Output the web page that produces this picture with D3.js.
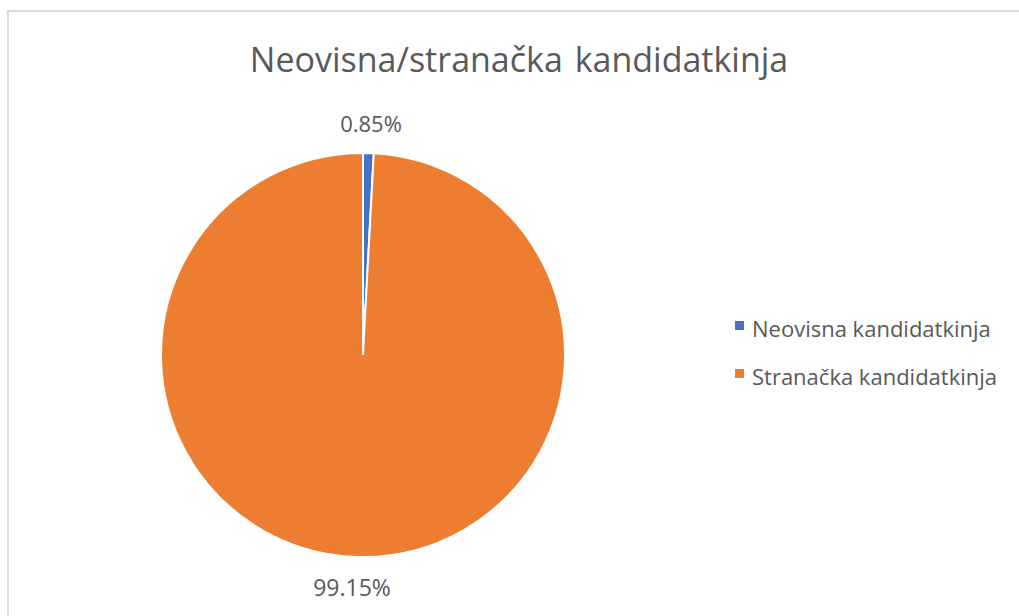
<!DOCTYPE html>
<html>
<head>
<meta charset="utf-8">
<script src="https://cdn.jsdelivr.net/npm/d3@7"></script>
<style>
  html, body { margin: 0; padding: 0; background: #fff; }
  svg { display: block; }
  text { font-family: 'Open Sans', 'Noto Sans', sans-serif; fill: #595959; }
</style>
</head>
<body>
<script>
const categories = ['Neovisna kandidatkinja', 'Stranačka kandidatkinja']
const values = [0.85, 99.15]
const labels = ['0.85%', '99.15%']
const colors = ['#4472C4', '#ED7D31']

const w = 1019
const h = 616

const svg = d3.select('body').append('svg')
    .attr('width', w)
    .attr('height', h)

// chart frame
svg.append('rect')
    .attr('x', 8)
    .attr('y', 11)
    .attr('width', w + 20)
    .attr('height', h + 20)
    .attr('fill', '#fff')
    .attr('stroke', '#d9d9d9')
    .attr('stroke-width', 2)

svg.append('text')
    .attr('x', 519)
    .attr('y', 72)
    .attr('text-anchor', 'middle')
    .style('font-size', '34px')
    .style('word-spacing', '3px')
    .text('Neovisna/stranačka kandidatkinja')

const cx = 363
const cy = 355
const r = 202

const pie = d3.pie().sort(null).value(d => d)
const arcs = pie(values)
const arc = d3.arc().innerRadius(0).outerRadius(r)

const g = svg.append('g').attr('transform', `translate(${cx},${cy})`)

g.selectAll('path')
    .data(arcs)
    .enter()
    .append('path')
    .attr('d', arc)
    .attr('fill', (d, i) => colors[i])
    .attr('stroke', '#fff')
    .attr('stroke-width', 2)

// data labels outside the pie
const labelPos = [[371, 132], [352, 596]]
g.selectAll('.lbl')
    .data(arcs)
    .enter()
    .append('text')
    .attr('class', 'lbl')
    .attr('text-anchor', 'middle')
    .attr('x', (d, i) => labelPos[i][0] - cx)
    .attr('y', (d, i) => labelPos[i][1] - cy)
    .style('font-size', (d, i) => i === 0 ? '22px' : '23px')
    .text((d, i) => labels[i])

const legend = svg.selectAll('.legend')
    .data(categories)
    .enter()
    .append('g')
    .attr('class', 'legend')
    .attr('transform', (d, i) => `translate(735, ${330 + i * 48})`)

legend.append('rect')
    .attr('x', 0)
    .attr('y', -9)
    .attr('width', 9)
    .attr('height', 9)
    .attr('fill', (d, i) => colors[i])

legend.append('text')
    .attr('x', 17)
    .attr('y', 7)
    .style('font-size', '22px')
    .text(d => d)
</script>
</body>
</html>
